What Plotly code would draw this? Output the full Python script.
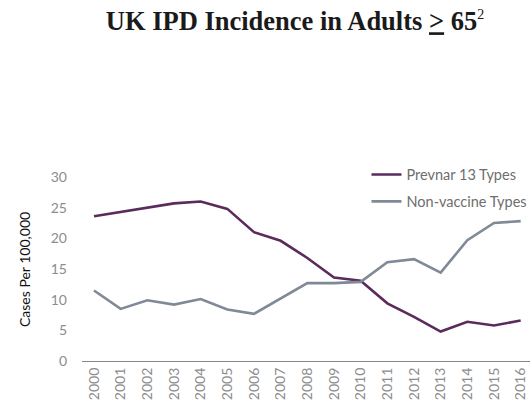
import plotly.graph_objects as go

years = [str(y) for y in range(2000, 2017)]
prevnar13 = [23.6, 24.3, 25.1, 25.7, 26.0, 24.8, 21.0, 19.6, 16.8, 13.6, 13.1,
             9.4, 7.2, 4.8, 6.4, 5.8, 6.6]
non_vaccine = [11.5, 8.5, 9.9, 9.2, 10.1, 8.4, 7.7, 10.2, 12.7, 12.7, 12.9,
               16.1, 16.6, 14.4, 19.7, 22.5, 22.8]
y_ticks = [0, 5, 10, 15, 20, 25, 30]

PURPLE = "#5a2b5c"
GREY = "#7f8a96"
TICK_GREY = "#8c8c8c"

fig = go.Figure()
fig.add_trace(go.Scatter(
    x=list(range(len(years))), y=prevnar13, mode="lines", name="Prevnar 13 Types",
    line=dict(color=PURPLE, width=2.6), legendgroup="a",
))
fig.add_trace(go.Scatter(
    x=list(range(len(years))), y=non_vaccine, mode="lines", name="Non-vaccine Types",
    line=dict(color=GREY, width=2.6), legendgroup="b",
))

fig.update_layout(
    width=530, height=408,
    margin=dict(l=82, r=0, t=177, b=47, autoexpand=False),
    paper_bgcolor="white", plot_bgcolor="white",
    font=dict(family="Lato, sans-serif", size=14, color=TICK_GREY),
    title=dict(
        text="<b>UK IPD Incidence in Adults <u>></u> 65</b>"
             "<sup><span style='font-size:14px'>2</span></sup>",
        font=dict(family="Liberation Serif, Times New Roman, serif", size=26.5, color="#1a1a1a"),
        xref="container", yref="container", x=295 / 530, xanchor="center",
        y=1 - 21 / 408, yanchor="middle",
    ),
    legend=dict(
        x=0.635, y=1.10, xanchor="left", yanchor="top",
        font=dict(size=14.5, color="#6e6e6e"), tracegroupgap=5,
        bgcolor="rgba(0,0,0,0)",
    ),
    showlegend=True,
)

fig.update_xaxes(
    range=[-0.45, 16.35], automargin=False,
    tickmode="array", tickvals=list(range(len(years))), ticktext=years,
    tickangle=-90, tickfont=dict(size=14, color=TICK_GREY),
    showgrid=False, zeroline=False,
    showline=True, linecolor="#888888", linewidth=1.2, ticks="",
)
fig.update_yaxes(
    range=[0, 30], tickvals=y_ticks, tickfont=dict(size=14, color=TICK_GREY),
    showgrid=False, zeroline=False, showline=False, ticks="",
    ticklabelstandoff=14, automargin=False,
)

fig.add_annotation(
    text="Cases Per 100,000", textangle=-90,
    xref="paper", yref="paper", x=(24 - 82) / 448, y=0.5,
    xanchor="center", yanchor="middle", showarrow=False,
    font=dict(size=14, color="#111111"),
)

# page body has a default 8px margin; drop it so the figure fills the window
fig.write_html(
    "out.html",
    config={"displayModeBar": False},
    post_script="document.body.style.margin='0';",
)
